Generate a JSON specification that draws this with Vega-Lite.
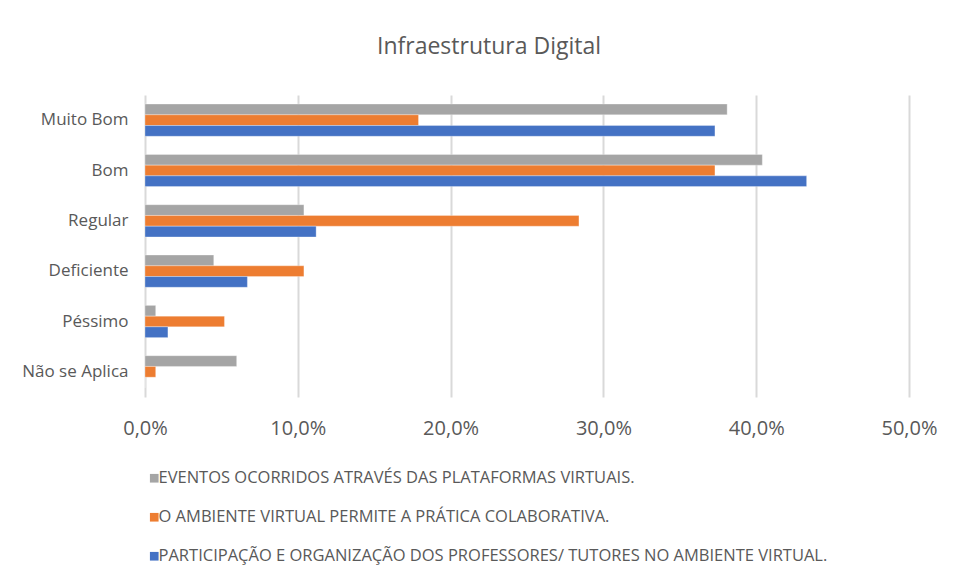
{
  "$schema": "https://vega.github.io/schema/vega-lite/v6.json",
  "width": 764,
  "height": 302,
  "autosize": "none",
  "padding": {"left": 145, "top": 95, "right": 50, "bottom": 183},
  "background": "white",
  "title": {
    "text": "Infraestrutura Digital",
    "fontSize": 23,
    "font": "Open Sans",
    "fontWeight": "normal",
    "color": "#595959",
    "anchor": "middle",
    "dx": -38,
    "offset": 36
  },
  "data": {
    "values": [
      {"cat": "Muito Bom", "serie": "EVENTOS OCORRIDOS ATRAVÉS DAS PLATAFORMAS VIRTUAIS.", "v": 0.381},
      {"cat": "Muito Bom", "serie": "O AMBIENTE VIRTUAL PERMITE A PRÁTICA COLABORATIVA.", "v": 0.179},
      {"cat": "Muito Bom", "serie": "PARTICIPAÇÃO E ORGANIZAÇÃO DOS PROFESSORES/ TUTORES NO AMBIENTE VIRTUAL.", "v": 0.373},
      {"cat": "Bom", "serie": "EVENTOS OCORRIDOS ATRAVÉS DAS PLATAFORMAS VIRTUAIS.", "v": 0.404},
      {"cat": "Bom", "serie": "O AMBIENTE VIRTUAL PERMITE A PRÁTICA COLABORATIVA.", "v": 0.373},
      {"cat": "Bom", "serie": "PARTICIPAÇÃO E ORGANIZAÇÃO DOS PROFESSORES/ TUTORES NO AMBIENTE VIRTUAL.", "v": 0.433},
      {"cat": "Regular", "serie": "EVENTOS OCORRIDOS ATRAVÉS DAS PLATAFORMAS VIRTUAIS.", "v": 0.104},
      {"cat": "Regular", "serie": "O AMBIENTE VIRTUAL PERMITE A PRÁTICA COLABORATIVA.", "v": 0.284},
      {"cat": "Regular", "serie": "PARTICIPAÇÃO E ORGANIZAÇÃO DOS PROFESSORES/ TUTORES NO AMBIENTE VIRTUAL.", "v": 0.112},
      {"cat": "Deficiente", "serie": "EVENTOS OCORRIDOS ATRAVÉS DAS PLATAFORMAS VIRTUAIS.", "v": 0.045},
      {"cat": "Deficiente", "serie": "O AMBIENTE VIRTUAL PERMITE A PRÁTICA COLABORATIVA.", "v": 0.104},
      {"cat": "Deficiente", "serie": "PARTICIPAÇÃO E ORGANIZAÇÃO DOS PROFESSORES/ TUTORES NO AMBIENTE VIRTUAL.", "v": 0.067},
      {"cat": "Péssimo", "serie": "EVENTOS OCORRIDOS ATRAVÉS DAS PLATAFORMAS VIRTUAIS.", "v": 0.007},
      {"cat": "Péssimo", "serie": "O AMBIENTE VIRTUAL PERMITE A PRÁTICA COLABORATIVA.", "v": 0.052},
      {"cat": "Péssimo", "serie": "PARTICIPAÇÃO E ORGANIZAÇÃO DOS PROFESSORES/ TUTORES NO AMBIENTE VIRTUAL.", "v": 0.015},
      {"cat": "Não se Aplica", "serie": "EVENTOS OCORRIDOS ATRAVÉS DAS PLATAFORMAS VIRTUAIS.", "v": 0.06},
      {"cat": "Não se Aplica", "serie": "O AMBIENTE VIRTUAL PERMITE A PRÁTICA COLABORATIVA.", "v": 0.007},
      {"cat": "Não se Aplica", "serie": "PARTICIPAÇÃO E ORGANIZAÇÃO DOS PROFESSORES/ TUTORES NO AMBIENTE VIRTUAL.", "v": 0.0}
    ]
  },
  "mark": {"type": "bar", "stroke": "white", "strokeWidth": 0.5, "strokeOpacity": 0.6},
  "encoding": {
    "y": {
      "field": "cat",
      "type": "nominal",
      "sort": ["Muito Bom", "Bom", "Regular", "Deficiente", "Péssimo", "Não se Aplica"],
      "scale": {"paddingInner": 0.36, "paddingOuter": 0.18},
      "axis": {
        "title": null,
        "ticks": false,
        "domain": false,
        "grid": false,
        "labelFont": "Open Sans",
        "labelFontSize": 17,
        "labelColor": "#595959",
        "labelPadding": 17
      }
    },
    "yOffset": {
      "field": "serie",
      "type": "nominal",
      "sort": [
        "EVENTOS OCORRIDOS ATRAVÉS DAS PLATAFORMAS VIRTUAIS.",
        "O AMBIENTE VIRTUAL PERMITE A PRÁTICA COLABORATIVA.",
        "PARTICIPAÇÃO E ORGANIZAÇÃO DOS PROFESSORES/ TUTORES NO AMBIENTE VIRTUAL."
      ],
      "scale": {"paddingInner": 0, "paddingOuter": 0}
    },
    "x": {
      "field": "v",
      "type": "quantitative",
      "scale": {"domain": [0, 0.5], "nice": false},
      "axis": {
        "title": null,
        "values": [0, 0.1, 0.2, 0.3, 0.4, 0.5],
        "labelExpr": "replace(format(datum.value, '.1%'), '.', ',')",
        "ticks": false,
        "domain": false,
        "grid": true,
        "gridColor": "#d9d9d9",
        "gridWidth": 2,
        "labelFlush": false,
        "labelFont": "Open Sans",
        "labelFontSize": 20,
        "labelColor": "#595959",
        "labelPadding": 21
      }
    },
    "color": {
      "field": "serie",
      "type": "nominal",
      "scale": {
        "domain": [
          "EVENTOS OCORRIDOS ATRAVÉS DAS PLATAFORMAS VIRTUAIS.",
          "O AMBIENTE VIRTUAL PERMITE A PRÁTICA COLABORATIVA.",
          "PARTICIPAÇÃO E ORGANIZAÇÃO DOS PROFESSORES/ TUTORES NO AMBIENTE VIRTUAL."
        ],
        "range": ["#A5A5A5", "#ED7D31", "#4472C4"]
      },
      "legend": {
        "title": null,
        "orient": "none",
        "legendX": 1,
        "legendY": 375,
        "direction": "vertical",
        "symbolType": "square",
        "symbolSize": 75,
        "symbolStrokeWidth": 0,
        "labelFont": "Open Sans",
        "labelFontSize": 16.5,
        "labelColor": "#595959",
        "labelLimit": 0,
        "labelOffset": -4,
        "rowPadding": 22
      }
    }
  },
  "config": {"view": {"stroke": null}}
}
